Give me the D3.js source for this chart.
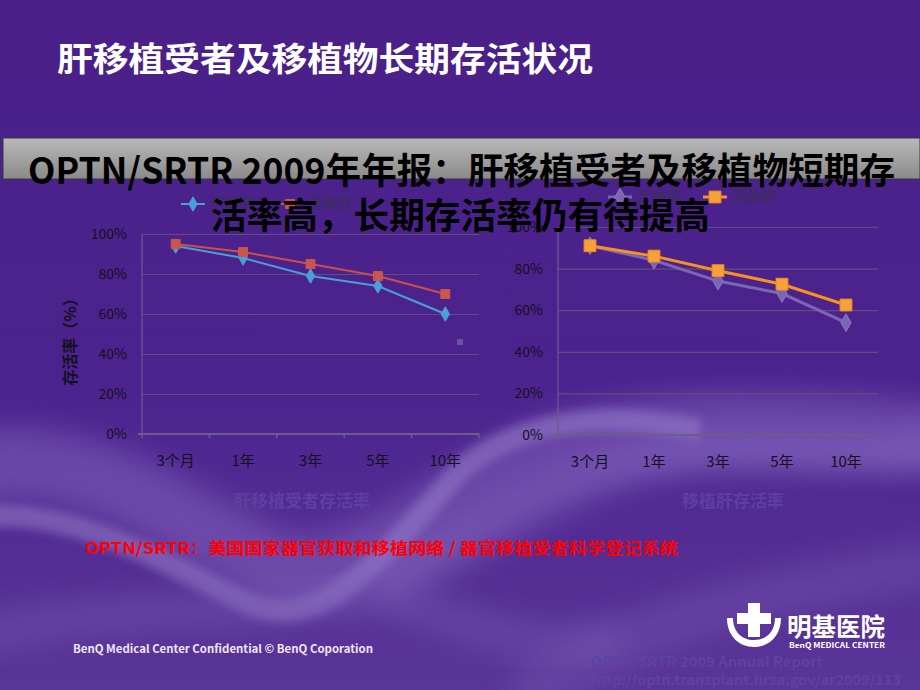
<!DOCTYPE html>
<html>
<head>
<meta charset="utf-8">
<script src="https://d3js.org/d3.v7.min.js"></script>
<style>
  body { margin: 0; background: #4a2189; }
  svg { display: block; }
  text { font-family: "Noto Sans CJK SC", "Liberation Sans", sans-serif; }
</style>
</head>
<body>
<svg id="slide" width="920" height="690"></svg>
<script>
// ---- data ----
var categories   = ["3个月", "1年", "3年", "5年", "10年"];
var recipCadaver = [94, 88, 79, 74, 60];      // 尸体肝, 受者存活率
var recipLiving  = [95, 91, 85, 79, 70];      // 活体肝, 受者存活率
var graftCadaver = [91, 84, 74, 68, 54];      // 尸体肝, 移植肝存活率
var graftLiving  = [91, 86, 79, 72.5, 62.5];  // 活体肝, 移植肝存活率
var yTicks       = [0, 20, 40, 60, 80, 100];
var seriesNames  = ["尸体肝", "活体肝"];

var svg = d3.select("#slide");
var defs = svg.append("defs");

// ---- background ----
var bg = defs.append("linearGradient").attr("id", "bg").attr("x1", 0).attr("y1", 0).attr("x2", 0).attr("y2", 1);
bg.append("stop").attr("offset", "0").attr("stop-color", "#4a1f88");
bg.append("stop").attr("offset", "0.55").attr("stop-color", "#4c238e");
bg.append("stop").attr("offset", "1").attr("stop-color", "#5a3598");
svg.append("rect").attr("width", 920).attr("height", 690).attr("fill", "url(#bg)");

defs.append("filter").attr("id", "blur").attr("x", "-20%").attr("y", "-50%").attr("width", "140%").attr("height", "200%")
  .append("feGaussianBlur").attr("stdDeviation", 14);
defs.append("filter").attr("id", "blur2").attr("x", "-20%").attr("y", "-50%").attr("width", "140%").attr("height", "200%")
  .append("feGaussianBlur").attr("stdDeviation", 5);

var waves = svg.append("g");
waves.append("path").attr("d", "M-40,470 C80,440 180,520 260,560 C340,600 420,520 520,470 C620,420 760,420 960,440")
  .attr("fill", "none").attr("stroke", "#8a6cc4").attr("stroke-width", 70).attr("opacity", 0.45).attr("filter", "url(#blur)");
waves.append("path").attr("d", "M-40,520 C60,500 160,560 240,600 C320,640 380,560 460,470 C520,420 600,410 700,430")
  .attr("fill", "none").attr("stroke", "#9c84cf").attr("stroke-width", 22).attr("opacity", 0.5).attr("filter", "url(#blur2)");
waves.append("path").attr("d", "M380,590 C480,540 560,480 660,460 C760,440 860,470 960,440")
  .attr("fill", "none").attr("stroke", "#8d72c6").attr("stroke-width", 40).attr("opacity", 0.4).attr("filter", "url(#blur)");
waves.append("path").attr("d", "M-40,640 C120,600 220,620 320,600 C420,580 480,660 620,640")
  .attr("fill", "none").attr("stroke", "#7c5fb8").attr("stroke-width", 40).attr("opacity", 0.35).attr("filter", "url(#blur)");
waves.append("path").attr("d", "M520,700 C600,640 700,600 960,560")
  .attr("fill", "none").attr("stroke", "#7a5db6").attr("stroke-width", 50).attr("opacity", 0.35).attr("filter", "url(#blur)");

// ---- slide title ----
svg.append("text").attr("x", 57).attr("y", 71)
  .attr("font-size", 33).attr("font-weight", "bold").attr("fill", "#ffffff")
  .attr("textLength", 536).attr("lengthAdjust", "spacingAndGlyphs")
  .text("肝移植受者及移植物长期存活状况");

// grey banner
var gb = defs.append("linearGradient").attr("id", "banner").attr("x1", 0).attr("y1", 0).attr("x2", 0).attr("y2", 1);
gb.append("stop").attr("offset", "0").attr("stop-color", "#b9b9b9");
gb.append("stop").attr("offset", "1").attr("stop-color", "#8a8a8a");
svg.append("rect").attr("x", 3).attr("y", 138).attr("width", 917).attr("height", 41)
  .attr("fill", "url(#banner)").attr("stroke", "#3a3a3a").attr("stroke-width", 1);

// ---- chart builder ----
function drawChart(opt) {
  var g = svg.append("g");
  var x = d3.scaleBand().domain(categories).range([opt.x0, opt.x1]);
  var y = d3.scaleLinear().domain([0, 100]).range([opt.yb, opt.yt]);

  // gridlines + y labels
  var yAxis = g.append("g").attr("transform", "translate(" + opt.x0 + ",0)")
    .call(d3.axisLeft(y).tickValues(yTicks).tickSize(-(opt.x1 - opt.x0)).tickPadding(15)
      .tickFormat(function(d) { return d + "%"; }));
  yAxis.select(".domain").remove();
  yAxis.selectAll("line").attr("stroke", "#5f4f7e").attr("stroke-width", 1.2);
  yAxis.selectAll("text").attr("fill", "#141020").attr("font-size", 14)
    .attr("font-family", "'Liberation Sans', sans-serif");

  // y axis line
  g.append("line").attr("x1", opt.x0).attr("x2", opt.x0).attr("y1", y(100)).attr("y2", y(0))
    .attr("stroke", "#6c5d88").attr("stroke-width", 1.2);
  // x axis line + ticks at band edges
  g.append("line").attr("x1", opt.x0 - 4).attr("x2", opt.x1).attr("y1", y(0)).attr("y2", y(0))
    .attr("stroke", "#6c5d88").attr("stroke-width", 2);
  var edges = categories.map(function(c) { return x(c); }).concat([opt.x1]);
  g.selectAll(".xt").data(edges).enter().append("line")
    .attr("x1", function(d) { return d; }).attr("x2", function(d) { return d; })
    .attr("y1", y(0)).attr("y2", y(0) + 4)
    .attr("stroke", "#6c5d88").attr("stroke-width", 1.5);
  g.selectAll(".xl").data(categories).enter().append("text")
    .attr("x", function(d) { return x(d) + x.bandwidth() / 2; })
    .attr("y", y(0) + 32).attr("text-anchor", "middle")
    .attr("font-size", 15).attr("fill", "#141020").text(function(d) { return d; });

  // series
  opt.series.forEach(function(s) {
    var line = d3.line()
      .x(function(d, i) { return x(categories[i]) + x.bandwidth() / 2; })
      .y(function(d) { return y(d); });
    g.append("path").datum(s.values).attr("d", line)
      .attr("fill", "none").attr("stroke", s.color).attr("stroke-width", s.width);
    var sym = d3.symbol().type(s.shape).size(s.size);
    g.selectAll(null).data(s.values).enter().append("path")
      .attr("d", sym)
      .attr("transform", function(d, i) {
        return "translate(" + (x(categories[i]) + x.bandwidth() / 2) + "," + y(d) + ")";
      })
      .attr("fill", s.fill).attr("stroke", s.stroke).attr("stroke-width", 1);
  });

  // legend
  opt.series.forEach(function(s, k) {
    var lx = opt.legendX[k], ly = opt.legendY;
    g.append("line").attr("x1", lx - 12).attr("x2", lx + 12).attr("y1", ly).attr("y2", ly)
      .attr("stroke", s.color).attr("stroke-width", s.width);
    g.append("path").attr("d", d3.symbol().type(s.shape).size(s.size)())
      .attr("transform", "translate(" + lx + "," + ly + ")")
      .attr("fill", s.fill).attr("stroke", s.stroke);
    g.append("text").attr("x", lx + 17).attr("y", ly + 5).attr("font-size", 15)
      .attr("fill", "#3a3050").text(seriesNames[k]);
  });

  // chart caption
  g.append("text").attr("x", opt.captionX).attr("y", 507).attr("text-anchor", "middle")
    .attr("font-size", 17).attr("font-weight", "bold").attr("fill", "#5e3fa0")
    .text(opt.caption);
}

drawChart({
  x0: 142, x1: 479, yb: 434, yt: 234,
  legendX: [193, 290], legendY: 204,
  caption: "肝移植受者存活率", captionX: 302,
  series: [
    { values: recipCadaver, color: "#4a9fd6", width: 2, shape: d3.symbolDiamond, size: 60, fill: "#4a9fd6", stroke: "#4a9fd6" },
    { values: recipLiving,  color: "#c9504a", width: 2, shape: d3.symbolSquare,  size: 80, fill: "#c9564c", stroke: "#c9564c" }
  ]
});

drawChart({
  x0: 558, x1: 878, yb: 435, yt: 227,
  legendX: [620, 715], legendY: 197,
  caption: "移植肝存活率", captionX: 733,
  series: [
    { values: graftCadaver, color: "#7b66b4", width: 3, shape: d3.symbolDiamond, size: 90, fill: "#7b66b4", stroke: "#8c78c0" },
    { values: graftLiving,  color: "#f8921e", width: 3, shape: d3.symbolSquare,  size: 140, fill: "#f7a13c", stroke: "#f68a1a" }
  ]
});

// stray legend key
svg.append("rect").attr("x", 457).attr("y", 339).attr("width", 6).attr("height", 6).attr("fill", "#6a54a2");

// y-axis title (left chart)
svg.append("text").attr("transform", "translate(76,338) rotate(-90)")
  .attr("text-anchor", "middle").attr("font-size", 16).attr("font-weight", "bold")
  .attr("fill", "#141020").text("存活率（%）");

// black overlay headline
svg.append("text").attr("x", 28).attr("y", 184)
  .attr("font-size", 36).attr("font-weight", "bold").attr("fill", "#000")
  .attr("textLength", 867).attr("lengthAdjust", "spacingAndGlyphs")
  .text("OPTN/SRTR 2009年年报：肝移植受者及移植物短期存");
svg.append("text").attr("x", 211).attr("y", 229)
  .attr("font-size", 36).attr("font-weight", "bold").attr("fill", "#000")
  .attr("textLength", 499).attr("lengthAdjust", "spacingAndGlyphs")
  .text("活率高，长期存活率仍有待提高");

// red footnote
svg.append("text").attr("x", 85).attr("y", 554)
  .attr("font-size", 16).attr("font-weight", "bold").attr("fill", "#ff0000")
  .attr("textLength", 593).attr("lengthAdjust", "spacingAndGlyphs")
  .text("OPTN/SRTR：美国国家器官获取和移植网络 / 器官移植受者科学登记系统");

// footer
svg.append("text").attr("x", 73).attr("y", 653)
  .attr("font-size", 11).attr("font-weight", "bold").attr("fill", "#ece6f4")
  .attr("textLength", 300).attr("lengthAdjust", "spacingAndGlyphs")
  .attr("font-family", "'Open Sans', sans-serif")
  .text("BenQ Medical Center Confidential © BenQ Coporation");

// logo
var logo = svg.append("g").attr("fill", "#ffffff");
logo.append("path").attr("d", "M727,618 L733,618 C733,632 742,640 754,640 C766,640 775,632 775,618 L781,618 C781,636 769,647 754,647 C739,647 727,636 727,618 Z");
logo.append("rect").attr("x", 748).attr("y", 603).attr("width", 12).attr("height", 34);
logo.append("rect").attr("x", 737).attr("y", 613).attr("width", 34).attr("height", 11);
logo.append("text").attr("x", 787).attr("y", 636).attr("font-size", 25).attr("font-weight", "bold")
  .attr("textLength", 98).attr("lengthAdjust", "spacingAndGlyphs").text("明基医院");
logo.append("text").attr("x", 789).attr("y", 648).attr("font-size", 7).attr("font-weight", "bold")
  .attr("textLength", 96).attr("lengthAdjust", "spacingAndGlyphs")
  .attr("font-family", "'Liberation Sans', sans-serif").text("BenQ MEDICAL CENTER");

// source
svg.append("text").attr("x", 591).attr("y", 667)
  .attr("font-size", 14).attr("font-weight", "bold").attr("fill", "#5d42a0")
  .attr("textLength", 232).attr("lengthAdjust", "spacingAndGlyphs")
  .attr("font-family", "'Open Sans', sans-serif").text("OPTN/SRTR 2009 Annual Report");
svg.append("text").attr("x", 591).attr("y", 685)
  .attr("font-size", 14).attr("font-weight", "bold").attr("fill", "#5d42a0")
  .attr("textLength", 310).attr("lengthAdjust", "spacingAndGlyphs")
  .attr("font-family", "'Open Sans', sans-serif").text("http://optn.transplant.hrsa.gov/ar2009/113");
</script>
</body>
</html>
